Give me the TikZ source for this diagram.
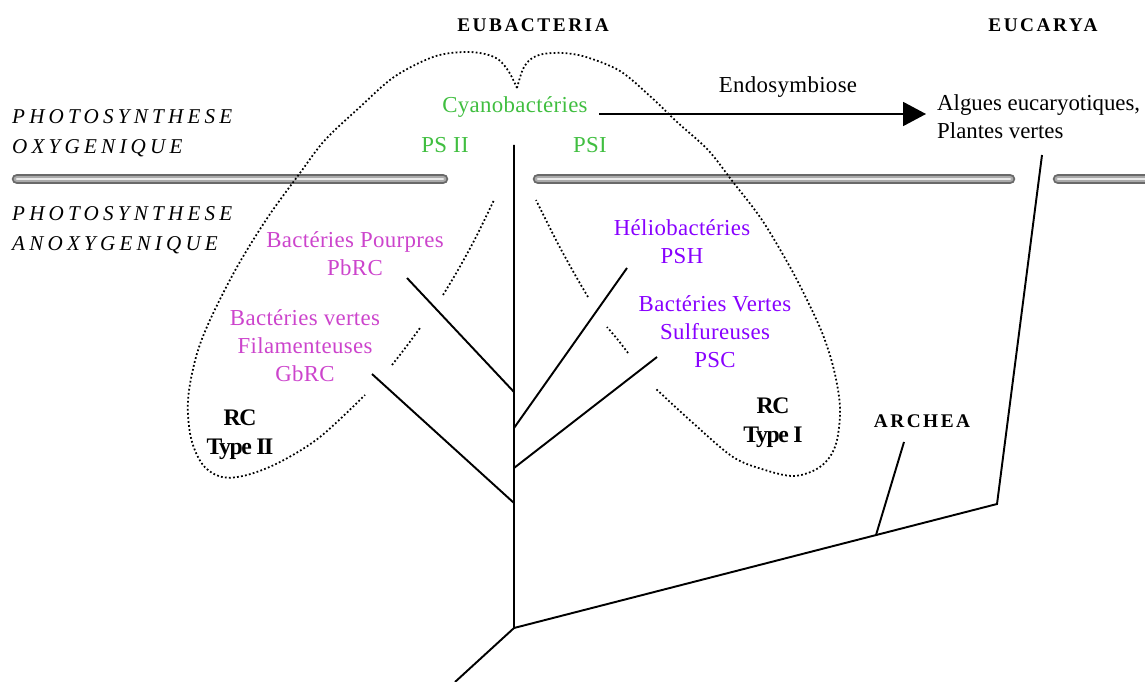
\documentclass[tikz,border=0pt]{standalone}
\usepackage{fontspec}
\setmainfont{Liberation Serif}
\usetikzlibrary{arrows.meta}
\definecolor{cyanogreen}{RGB}{64,190,64}
\definecolor{pourpre}{RGB}{204,68,204}
\definecolor{heliopurple}{RGB}{136,0,255}
\definecolor{barout}{RGB}{105,105,105}
\definecolor{barmid}{RGB}{170,170,170}
\definecolor{barhi}{RGB}{235,235,235}

\begin{document}
\begin{tikzpicture}[x=0.02cm,y=-0.02cm,
  treeline/.style={line width=1.1pt},
  lobedots/.style={line width=1pt,dash pattern=on 1pt off 1.3pt,smooth,tension=0.55},
  domaintext/.style={font=\fontsize{11}{13}\selectfont\bfseries\addfontfeature{LetterSpace=13}},
  modetext/.style={anchor=west,align=left,font=\fontsize{12}{17}\selectfont\itshape\addfontfeature{LetterSpace=20}},
  grouptext/.style={align=center,font=\fontsize{13}{16}\selectfont\addfontfeature{LetterSpace=1.5}},
  rctext/.style={align=center,font=\fontsize{13.5}{16.5}\selectfont\bfseries\addfontfeature{LetterSpace=-6}},
  cyanotext/.style={grouptext,text=cyanogreen},
  pourpretext/.style={grouptext,text=pourpre},
  heliotext/.style={grouptext,text=heliopurple}]
  \useasboundingbox (0,0) rectangle (1145,682);

  % membranes
  \foreach \a/\b in {17/443, 538/1010, 1058/1150} {
    \draw[barout,line width=6pt,line cap=round] (\a,179) -- (\b,179);
    \draw[barmid,line width=3.8pt,line cap=round] (\a,179) -- (\b,179);
    \draw[barhi,line width=1.5pt,line cap=round] (\a,179) -- (\b,179);
  }

  % RC type II lobe
  \draw[lobedots] plot coordinates {(517,88) (509,72) (499,60) (485,54) (463,52)
    (433,57) (394,77) (360,107) (325,140) (300,173) (268,217) (237,267)
    (210,320) (196,357) (188,400) (191,438) (203,465) (222,477) (247,475)
    (280,462) (320,437) (365,395)};
  \draw[lobedots] plot coordinates {(392,365) (406,347) (420,328)};
  \draw[lobedots] plot coordinates {(443,295) (458,270) (476,237) (494,200)};
  % RC type I lobe
  \draw[lobedots] plot coordinates {(517,88) (523,69) (531,59) (543,54) (563,53)
    (586,57) (620,71) (651,97) (677,122) (708,150) (733,182) (762,220)
    (790,267) (808,302) (823,335) (834,370) (840,407) (837,440) (829,458)
    (815,470) (793,476) (765,470) (733,457) (693,423) (655,388)};
  \draw[lobedots] plot coordinates {(628,353) (618,340) (607,327)};
  \draw[lobedots] plot coordinates {(588,297) (574,273) (556,240) (536,200)};

  % domains and modes
  \node[domaintext] (eubacteria) at (533,25) {EUBACTERIA};
  \node[domaintext] (eucarya)    at (1043,25) {EUCARYA};
  \node[domaintext] (archea)     at (922,421) {ARCHEA};
  \node[modetext] (oxy)   at (6,133) {PHOTOSYNTHESE\\OXYGENIQUE};
  \node[modetext] (anoxy) at (6,230) {PHOTOSYNTHESE\\ANOXYGENIQUE};

  % groups
  \node[cyanotext] (cyanobact) at (515,107) {Cyanobactéries};
  \node[cyanotext] (ps_ii) at (445,145) {PS II};
  \node[cyanotext] (ps_i)  at (590,145) {PSI};
  \node[grouptext] (endo)  at (788,87) {Endosymbiose};
  \node[anchor=west,align=left,font=\fontsize{13}{16}\selectfont] (algues) at (931,117)
    {Algues eucaryotiques,\\Plantes vertes};
  \node[pourpretext] (pbrc) at (355,254) {Bactéries Pourpres\\PbRC};
  \node[pourpretext] (gbrc) at (305,346) {Bactéries vertes\\Filamenteuses\\GbRC};
  \node[heliotext] (psh) at (682,242) {Héliobactéries\\PSH};
  \node[heliotext] (psc) at (715,332) {Bactéries Vertes\\Sulfureuses\\PSC};
  \node[rctext] (rc_ii) at (240,435) {RC\\Type II};
  \node[rctext] (rc_i)  at (773,423) {RC\\Type I};

  % tree
  \coordinate (root)      at (514,628);
  \coordinate (base)      at (455,682);
  \coordinate (top)       at (514,145);
  \coordinate (j_pb)      at (514,392);
  \coordinate (tip_pb)    at (407,278);
  \coordinate (j_helio)   at (514,428);
  \coordinate (tip_helio) at (627,268);
  \coordinate (j_psc)     at (514,468);
  \coordinate (tip_psc)   at (657,357);
  \coordinate (j_gb)      at (514,503);
  \coordinate (tip_gb)    at (372,374);
  \coordinate (j_archea)  at (876,535);
  \coordinate (tip_archea) at (904,442);
  \coordinate (j_euca)    at (997,504);
  \coordinate (tip_euca)  at (1042,155);
  \coordinate (endo_tip)  at (926,114);

  \draw[treeline] (base) -- (root) -- (top);
  \draw[treeline] (root) -- (j_euca) -- (tip_euca);
  \draw[treeline] (j_archea) -- (tip_archea);
  \draw[treeline] (j_pb) -- (tip_pb);
  \draw[treeline] (j_helio) -- (tip_helio);
  \draw[treeline] (j_psc) -- (tip_psc);
  \draw[treeline] (j_gb) -- (tip_gb);
  \draw[treeline,shorten <=3pt,-{Triangle[length=0.46cm,width=0.48cm]}]
    (cyanobact.east |- endo_tip) -- (endo_tip);
\end{tikzpicture}
\end{document}
